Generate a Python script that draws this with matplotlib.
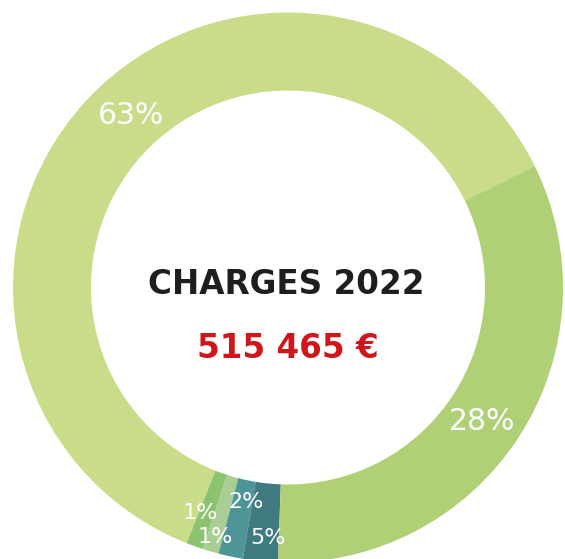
import matplotlib
matplotlib.use("Agg")
import matplotlib.pyplot as plt

# Data (angular shares as drawn, and printed labels)
categories = ["Poste A", "Poste B", "Poste C", "Poste D", "Poste E", "Poste F"]
shares = [61.72, 1.0, 0.94, 1.44, 2.04, 32.86]
labels = ["63%", "1%", "1%", "2%", "5%", "28%"]
colors = ["#c8dc8a", "#8cc36e", "#a9cd95", "#4f9598", "#3e7a80", "#afd074"]
title = "CHARGES 2022"
total = "515 465 €"

W, H = 565, 559
fig = plt.figure(figsize=(W / 100, H / 100), dpi=100)
ax = fig.add_axes([0, 0, 1, 1])

cx, cy = 288, H - 287.5
R = 275
ring = 78

ax.pie(shares, colors=colors, startangle=26.2, counterclock=True,
       center=(cx, cy), radius=R,
       wedgeprops=dict(width=ring, edgecolor="none", linewidth=0))
ax.set_xlim(0, W)
ax.set_ylim(0, H)
ax.set_aspect("auto")
ax.axis("off")

# label positions (pixels, from top-left)
label_pos = [(131, 115), (200, 513), (215, 537), (246, 502), (268, 538), (482, 422)]
label_size = [21.5, 16, 16, 16, 16, 21.5]
for lab, (x, y), s in zip(labels, label_pos, label_size):
    ax.text(x, H - y, lab, color="white", fontsize=s, family="DejaVu Sans",
            ha="center", va="center")

ax.text(cx - 2, H - 284, title, color="#1e1e1e", fontsize=23.5, family="DejaVu Sans",
        fontweight="bold", ha="center", va="center")
ax.text(cx, H - 349, total, color="#d0161b", fontsize=23.5, family="DejaVu Sans",
        fontweight="bold", ha="center", va="center")

fig.savefig("out.png", dpi=100)
